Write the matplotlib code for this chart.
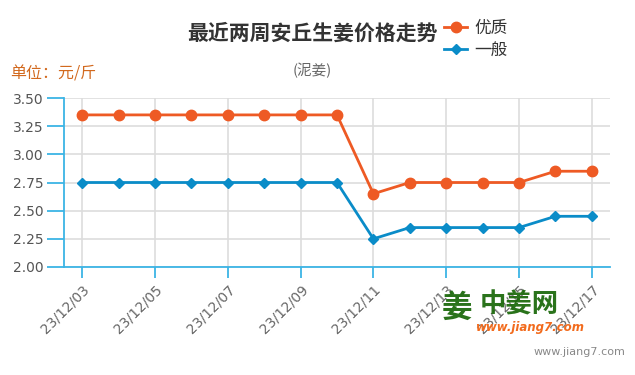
import matplotlib.pyplot as plt

plt.rcParams['font.family'] = ['Noto Sans CJK SC', 'DejaVu Sans']

# data
dates = ['23/12/03', '23/12/04', '23/12/05', '23/12/06', '23/12/07', '23/12/08',
         '23/12/09', '23/12/10', '23/12/11', '23/12/12', '23/12/13', '23/12/14',
         '23/12/15', '23/12/16', '23/12/17']
youzhi = [3.35, 3.35, 3.35, 3.35, 3.35, 3.35, 3.35, 3.35, 2.65, 2.75, 2.75, 2.75, 2.75, 2.85, 2.85]
yiban = [2.75, 2.75, 2.75, 2.75, 2.75, 2.75, 2.75, 2.75, 2.25, 2.35, 2.35, 2.35, 2.35, 2.45, 2.45]
yticks = [2.00, 2.25, 2.50, 2.75, 3.00, 3.25, 3.50]

orange = '#EE5A24'
blue = '#0A8CC8'
axcol = '#3BB4E5'

fig = plt.figure(figsize=(6.35, 3.75), dpi=100)
ax = fig.add_axes([64/635, 1-267/375, 546/635, 169/375])

x = list(range(len(dates)))
ax.plot(x, youzhi, color=orange, lw=2, marker='o', ms=7.5, label='优质', zorder=3)
ax.plot(x, yiban, color=blue, lw=2, marker='D', ms=5.5, label='一般', zorder=3)

ax.set_xlim(-0.5, len(dates) - 0.5)
ax.set_ylim(2.0, 3.5)
ax.set_yticks(yticks)
ax.set_yticklabels(['%.2f' % v for v in yticks], family='DejaVu Sans', fontsize=10, color='#555555')
ax.set_xticks(x[::2])
ax.set_xticklabels(dates[::2], rotation=45, ha='right', va='top', family='DejaVu Sans',
                   fontsize=10, color='#666666', rotation_mode='anchor')
ax.grid(True, color='#DDDDDD', lw=1.2)
ax.set_axisbelow(True)
for s in ['top', 'right']:
    ax.spines[s].set_visible(False)
for s in ['left', 'bottom']:
    ax.spines[s].set_color(axcol)
    ax.spines[s].set_linewidth(1.3)
ax.tick_params(axis='both', colors=axcol, length=8, width=1.3, pad=3)
ax.tick_params(axis='x', labelcolor='#666666')
ax.tick_params(axis='y', labelcolor='#555555', length=12)

fig.text(312/635, 1-33/375, '最近两周安丘生姜价格走势', ha='center', va='center',
         fontsize=15, fontweight='bold', color='#333333')
fig.text(312/635, 1-70/375, '(泥姜)', ha='center', va='center', fontsize=10.5, color='#666666')
fig.text(10/635, 1-74/375, '单位：元/斤', ha='left', va='center', fontsize=11.5, color='#D2691E')

leg = fig.legend(loc='upper left', bbox_to_anchor=(444/635, 1-20/375), frameon=False,
                 fontsize=12, handlelength=1.4, handletextpad=0.4, labelspacing=0.3,
                 borderaxespad=0, borderpad=0)
for t in leg.get_texts():
    t.set_color('#333333')

# watermark logo
fig.text(442/635, 1-308/375, '姜', ha='left', va='center', fontsize=22,
         fontweight='bold', color='#1E6B0E', alpha=0.95)
fig.text(480/635, 1-305/375, '中姜网', ha='left', va='center', fontsize=19,
         fontweight='bold', color='#1E6B0E', alpha=0.95)
fig.text(476/635, 1-328/375, 'www.jiang7.com', ha='left', va='center', fontsize=8.5,
         fontweight='bold', style='italic', color='#F26B1D', family='DejaVu Sans')
fig.text(625/635, 1-352/375, 'www.jiang7.com', ha='right', va='center', fontsize=8,
         color='#888888', family='DejaVu Sans')

fig.savefig('out.png', dpi=100)
